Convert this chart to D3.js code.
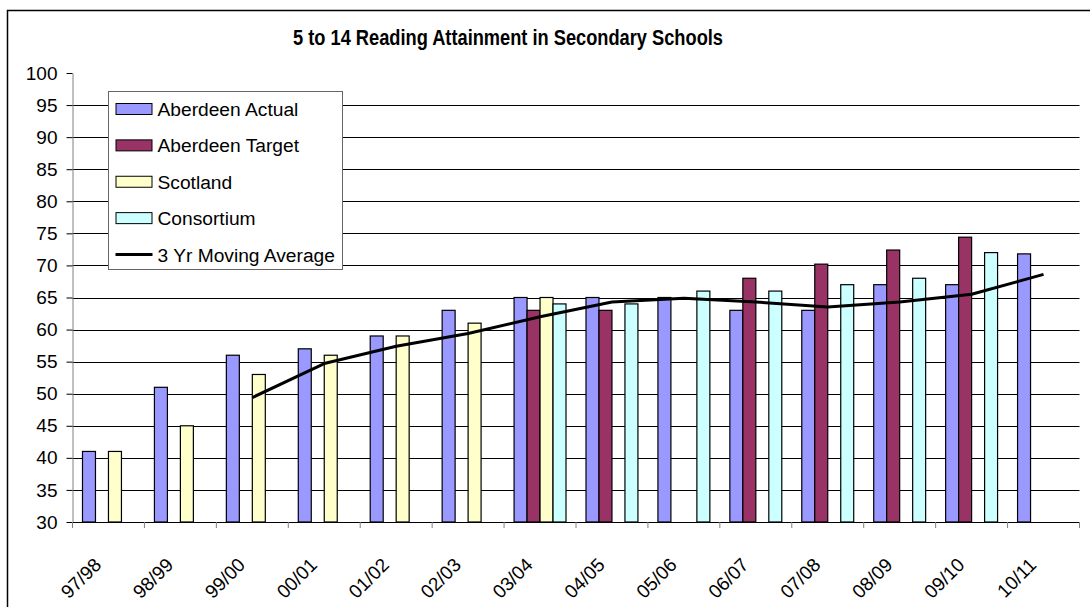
<!DOCTYPE html>
<html>
<head>
<meta charset="utf-8">
<script src="https://cdn.jsdelivr.net/npm/d3@7"></script>
<style>
  body { margin: 0; background: #fff; }
  text { font-family: "Liberation Sans", Arial, sans-serif; fill: #000; }
</style>
</head>
<body>
<svg id="chart" width="1090" height="607"></svg>
<script>
const categories = ["97/98", "98/99", "99/00", "00/01", "01/02", "02/03", "03/04",
  "04/05", "05/06", "06/07", "07/08", "08/09", "09/10", "10/11"];
const aberdeenActual = [41, 51, 56, 57, 59, 63, 65, 65, 65, 63, 63, 67, 67, 71.8];
const aberdeenTarget = [null, null, null, null, null, null, 63, 63, null, 68, 70.2, 72.4, 74.4, null];
const scotland = [41, 45, 53, 56, 59, 61, 65, null, null, null, null, null, null, null];
const consortium = [null, null, null, null, null, null, 64, 64, 66, 66, 67, 68, 72, null];
const movingAverage = [null, null, 49.4, 54.7, 57.4, 59.4, 62.0, 64.3, 64.9, 64.3, 63.5, 64.3, 65.5, 68.6];
const yTicks = [30, 35, 40, 45, 50, 55, 60, 65, 70, 75, 80, 85, 90, 95, 100];

const series = [
  { name: "Aberdeen Actual", values: aberdeenActual, color: "#9999ff" },
  { name: "Aberdeen Target", values: aberdeenTarget, color: "#993366" },
  { name: "Scotland", values: scotland, color: "#ffffcc" },
  { name: "Consortium", values: consortium, color: "#ccffff" }
];

const svg = d3.select("#chart");
const plot = { left: 72.5, right: 1079.5, top: 73, bottom: 522 };

// outer chart border
svg.append("rect")
  .attr("x", 7.5).attr("y", 10.5)
  .attr("width", 1100).attr("height", 700)
  .attr("fill", "none").attr("stroke", "#000").attr("stroke-width", 1.5);

svg.append("text")
  .attr("x", 508).attr("y", 44.5)
  .attr("text-anchor", "middle")
  .attr("font-size", 22).attr("font-weight", "bold")
  .attr("textLength", 430).attr("lengthAdjust", "spacingAndGlyphs")
  .text("5 to 14 Reading Attainment in Secondary Schools");

const x = d3.scaleBand().domain(categories).range([plot.left, plot.right]);
const x1 = d3.scaleBand().domain(series.map(s => s.name))
  .range([0, x.bandwidth()]).paddingOuter(0.77);
const y = d3.scaleLinear().domain([30, 100]).range([plot.bottom, plot.top]);

// gridlines
svg.append("g")
  .selectAll("line")
  .data(yTicks.filter(t => t > 30 && t < 100))
  .join("line")
  .attr("x1", plot.left).attr("x2", plot.right)
  .attr("y1", d => Math.round(y(d)) + 0.5).attr("y2", d => Math.round(y(d)) + 0.5)
  .attr("stroke", "#000").attr("stroke-width", 1);

// bars
const groups = svg.append("g")
  .selectAll("g")
  .data(series)
  .join("g")
  .attr("fill", d => d.color);

groups.selectAll("rect")
  .data(s => s.values.map((v, i) => ({ s: s.name, cat: categories[i], v: v })).filter(d => d.v != null))
  .join("rect")
  .attr("x", d => x(d.cat) + x1(d.s))
  .attr("y", d => y(d.v))
  .attr("width", x1.bandwidth())
  .attr("height", d => y(30) - y(d.v))
  .attr("stroke", "#000").attr("stroke-width", 1.2);

// 3 yr moving average
const line = d3.line()
  .defined(d => d.v != null)
  .x(d => x(d.cat) + x.bandwidth() / 2)
  .y(d => y(d.v));

svg.append("path")
  .datum(movingAverage.map((v, i) => ({ cat: categories[i], v: v })))
  .attr("fill", "none")
  .attr("stroke", "#000")
  .attr("stroke-width", 3)
  .attr("stroke-linejoin", "round")
  .attr("d", line);

// y axis
const yAxis = svg.append("g")
  .attr("transform", `translate(${plot.left},0)`)
  .call(d3.axisLeft(y).tickValues(yTicks).tickSize(6).tickPadding(9).tickSizeOuter(0));
yAxis.select(".domain").attr("stroke", "#808080");
yAxis.selectAll(".tick line").attr("stroke", "#000");
yAxis.selectAll("text").attr("font-size", 19).attr("font-family", null);

// x axis
const xAxis = svg.append("g")
  .attr("transform", `translate(0,${plot.bottom})`)
  .call(d3.axisBottom(x).tickSize(0).tickSizeOuter(0).tickFormat(""));
xAxis.select(".domain").attr("stroke", "#000");

svg.append("g")
  .selectAll("line")
  .data(categories.concat(["end"]))
  .join("line")
  .attr("x1", (d, i) => i < categories.length ? x(d) : plot.right)
  .attr("x2", (d, i) => i < categories.length ? x(d) : plot.right)
  .attr("y1", plot.bottom).attr("y2", plot.bottom + 6)
  .attr("stroke", "#808080");

svg.append("g")
  .selectAll("text")
  .data(categories)
  .join("text")
  .attr("text-anchor", "end")
  .attr("font-size", 19)
  .attr("transform", d => `translate(${x(d) + x.bandwidth() / 2 - 6},566) rotate(-45)`)
  .text(d => d);

// legend
const legend = svg.append("g").attr("transform", "translate(108.5,91.5)");
legend.append("rect")
  .attr("width", 234).attr("height", 178)
  .attr("fill", "#fff").attr("stroke", "#666").attr("stroke-width", 1);

const legendItems = series.map(s => ({ name: s.name, color: s.color, type: "bar" }))
  .concat([{ name: "3 Yr Moving Average", type: "line" }]);
const rowY = d3.scalePoint().domain(legendItems.map(d => d.name)).range([17.5, 163]);

const rows = legend.selectAll("g.item")
  .data(legendItems)
  .join("g")
  .attr("class", "item")
  .attr("transform", d => `translate(0,${rowY(d.name)})`);

rows.filter(d => d.type === "bar").append("rect")
  .attr("x", 7.5).attr("y", -5.5)
  .attr("width", 36).attr("height", 11)
  .attr("fill", d => d.color).attr("stroke", "#000");
rows.filter(d => d.type === "line").append("line")
  .attr("x1", 7).attr("x2", 44)
  .attr("stroke", "#000").attr("stroke-width", 3);
rows.append("text")
  .attr("x", 49).attr("y", 7)
  .attr("font-size", 19.2)
  .text(d => d.name);
</script>
</body>
</html>
